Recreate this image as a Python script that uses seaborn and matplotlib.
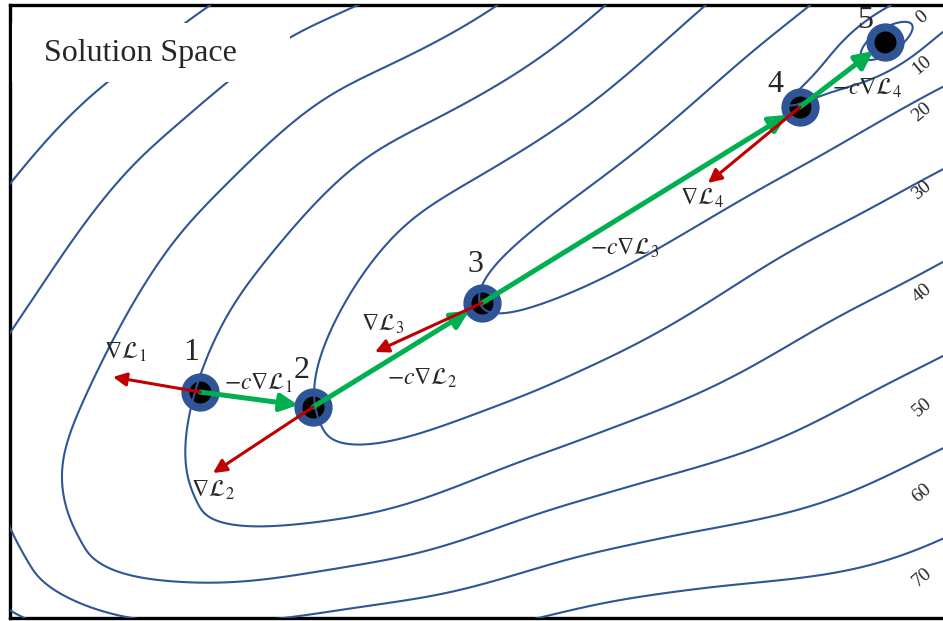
import numpy as np
import matplotlib
matplotlib.use("Agg")
import matplotlib.pyplot as plt
from matplotlib.patches import Rectangle
import seaborn as sns

# ---- data -------------------------------------------------------------
# gradient-descent iterates (pixel-space coordinates of the solution space)
step_id = [1, 2, 3, 4, 5]
step_x = [200, 313, 482, 800, 885]
step_y = [392, 407, 303, 107, 42]
# tips of the gradient vectors drawn from iterates 1..4
grad_tip_x = [113, 213, 375, 708]
grad_tip_y = [377, 473, 352, 183]
# loss levels drawn as contours and labelled on the right edge
levels = [0, 10, 20, 30, 40, 50, 60, 70]
label_y = [17, 65, 112, 190, 293, 407, 493, 577]
# loss along the valley floor vs. distance from the minimum
floor_t = [-100, -55, 120, 490, 686, 829, 961, 1000, 1050, 1200]
floor_loss = [5.5, 7, 10, 20, 30, 40, 50, 60, 70, 100]

# ---- style ------------------------------------------------------------
sns.set_theme(style="white")
plt.rcParams["font.family"] = ["Liberation Serif", "DejaVu Serif"]
plt.rcParams["mathtext.fontset"] = "stix"

BLUE = "#2F5597"
GREEN = "#00B050"
RED = "#C00000"

W, H = 943, 621
fig = plt.figure(figsize=(W / 100, H / 100), dpi=100)
x0, x1, y0, y1 = 9.5, 948, 5, 618
ax = fig.add_axes([x0 / W, (H - y1) / H, (x1 - x0) / W, (y1 - y0) / H])
ax.set_xlim(x0, x1)
ax.set_ylim(y1, y0)
ax.set_xticks([])
ax.set_yticks([])
for sp in ax.spines.values():
    sp.set_color("black")
    sp.set_linewidth(2.4)


# ---- loss surface -------------------------------------------------------
def smooth(y, sigma):
    k = np.arange(-4 * sigma, 4 * sigma + 1)
    k = np.exp(-0.5 * (k / sigma) ** 2)
    k /= k.sum()
    n = len(k) // 2
    return np.convolve(np.pad(y, n, mode="edge"), k, mode="valid")


def profile(knots, vals, sigma=60):
    return smooth(np.interp(tt, knots, vals), sigma)


# profiles along the valley axis (1-unit resolution, smoothed)
tt = np.arange(-500.0, 1700.0)
g_t = profile(floor_t, floor_loss, 30)
a_t = profile([0, 500, 650, 850, 1000], [0, 0, -22, -22, 30], 50)
# upper (north-west) flank
s_up_t = profile([0, 300, 560, 760], [12, 19, 100, 150])
A_up_t = profile([0, 500, 700, 900], [0.15, 0.15, 0.132, 0.112], 80)
B_up_t = profile([0, 420, 560], [2.5, 2.5, 0])
# lower (south-east) flank
s_lo_t = profile([0, 400, 650], [12, 44, 90])
A_lo_t = profile([0, 300, 450, 650, 850, 1000],
                 [0.12, 0.12, 0.165, 0.22, 0.3, 0.33], 90)
B_lo_t = profile([0, 200, 400], [7, 7, 0])

xs = np.linspace(0, 960, 800)
ys = np.linspace(0, 630, 520)
X, Y = np.meshgrid(xs, ys)
th = np.deg2rad(33)
dx = X - step_x[-1]
dy = step_y[-1] - Y
u = dx * np.cos(th) + dy * np.sin(th)
v = -dx * np.sin(th) + dy * np.cos(th)
t = -u


def prof(p):
    return np.interp(t, tt, p)


vp = v - prof(a_t)
s_up, s_lo = prof(s_up_t), prof(s_lo_t)
r_up = np.sqrt(vp ** 2 + s_up ** 2) - s_up
r_lo = np.sqrt(vp ** 2 + s_lo ** 2) - s_lo
h_up = prof(A_up_t) * r_up + prof(B_up_t) * (1 - np.exp(-r_up / 20))
h_lo = prof(A_lo_t) * r_lo + prof(B_lo_t) * (1 - np.exp(-r_lo / 35))
side = 0.5 * (1 + np.tanh(vp / 15))
bowl = 13 * np.exp(-(t ** 2 / (2 * 30 ** 2) + v ** 2 / (2 * 15 ** 2)))
Z = prof(g_t) + side * h_up + (1 - side) * h_lo - bowl

# ---- iterates ------------------------------------------------------------
sns.scatterplot(x=step_x, y=step_y, s=760, color=BLUE, linewidth=0,
                legend=False, ax=ax, zorder=2)
sns.scatterplot(x=step_x, y=step_y, s=250, color="black", linewidth=0,
                legend=False, ax=ax, zorder=3)

ax.contour(X, Y, Z, levels=levels, colors=BLUE, linewidths=1.5, zorder=4)

# white panel behind the title
ax.add_patch(Rectangle((12, 23), 278, 59, facecolor="white", edgecolor="none",
                       zorder=5))
ax.text(44, 54, "Solution Space", fontsize=23, va="center", ha="left", zorder=6)

# ---- update steps (green) and gradients (red) ---------------------------
for i in range(len(step_x) - 1):
    sx, sy = step_x[i], step_y[i]
    ex, ey = step_x[i + 1], step_y[i + 1]
    d = np.hypot(ex - sx, ey - sy)
    tx, ty = ex - 15 * (ex - sx) / d, ey - 15 * (ey - sy) / d
    ax.annotate("", xy=(tx, ty), xytext=(sx, sy), zorder=7,
                arrowprops=dict(arrowstyle="-|>", color=GREEN, lw=3.6,
                                mutation_scale=26, shrinkA=0, shrinkB=0))
for i in range(len(grad_tip_x)):
    ax.annotate("", xy=(grad_tip_x[i], grad_tip_y[i]),
                xytext=(step_x[i], step_y[i]), zorder=8,
                arrowprops=dict(arrowstyle="-|>", color=RED, lw=2.2,
                                mutation_scale=20, shrinkA=0, shrinkB=0))

# ---- annotations --------------------------------------------------------
num_off = [(-9, -39), (-11, -36), (-7, -38), (-25, -22), (-20, -22)]
for k, (ox, oy) in zip(step_id, num_off):
    ax.text(step_x[k - 1] + ox, step_y[k - 1] + oy, str(k), fontsize=23,
            ha="center", va="center", zorder=9)

grad_lab = [(125, 352), (213, 490), (383, 324), (702, 198)]
step_lab = [(259, 383), (422, 378), (625, 248), (867, 88)]
for k in range(4):
    ax.text(*grad_lab[k], r"$\nabla\mathcal{L}_{%d}$" % (k + 1), fontsize=17,
            ha="center", va="center", zorder=9)
    ax.text(*step_lab[k], r"$-c\nabla\mathcal{L}_{%d}$" % (k + 1), fontsize=17,
            ha="center", va="center", zorder=9)

for lv, ly in zip(levels, label_y):
    ax.text(922, ly, str(lv), fontsize=14, rotation=40, ha="center",
            va="center", zorder=9)

fig.savefig("out.png", dpi=100)
